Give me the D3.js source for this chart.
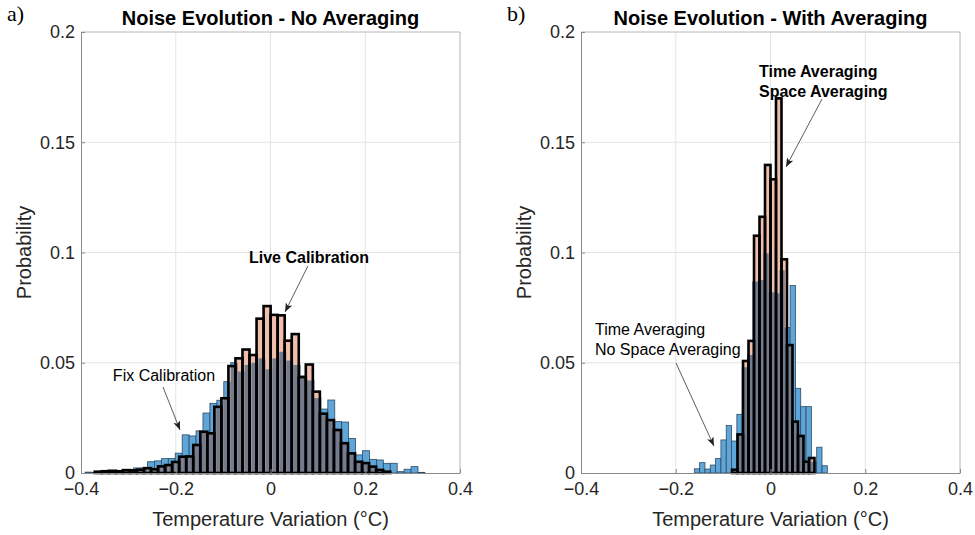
<!doctype html>
<html>
<head>
<meta charset="utf-8">
<style>
  body { margin: 0; background: #fff; }
  svg { font-family: "Liberation Sans", Arial, Helvetica, sans-serif; }
  .grid line { stroke: #e4e4e4; stroke-width: 1; }
  .axis path, .axis line { stroke: #8a8a8a; }
  .axis text { font-size: 18px; fill: #262626; }
  .fix { fill: #5fa5d7; stroke: #2c4b66; stroke-width: 0.8; }
  .live { fill: #efbfab; }
  .overlap { fill: #737b8c; }
  .edge { fill: none; stroke: #000; stroke-width: 2.6; }
  .title { font-size: 20px; font-weight: bold; fill: #000; }
  .label { font-size: 20px; fill: #262626; }
  .note { font-size: 16px; fill: #000; }
  .note.bold { font-weight: bold; }
  .panel-tag { font-family: "Liberation Serif", "Times New Roman", serif; font-size: 22px; fill: #000; }
  .arrow { stroke: #333; stroke-width: 0.8; }
</style>
<script src="https://d3js.org/d3.v7.min.js"></script>
</head>
<body>
<svg width="975" height="535"></svg>
<script>

// axis ticks (same for both panels)
var xTicks = [-0.4, -0.2, 0, 0.2, 0.4];
var yTicks = [0, 0.05, 0.1, 0.15, 0.2];

// a) no averaging : fix calibration (blue), 49 bins
var fixStartA = -0.3914, fixWidthA = 0.01464;
var fixProbA = [0.0004, 0.0002, 0.0003, 0.0006, 0.0008, 0.0005, 0.0008,
  0.0023, 0.0023, 0.0051, 0.0055, 0.0065, 0.0066, 0.009, 0.0173, 0.0168,
  0.0191, 0.0272, 0.0316, 0.033, 0.0414, 0.05, 0.046, 0.049, 0.050, 0.052,
  0.047, 0.052, 0.055, 0.051, 0.049, 0.044, 0.042, 0.034, 0.029, 0.0331,
  0.0233, 0.0231, 0.0157, 0.0082, 0.0101, 0.0062, 0.0059, 0.0044, 0.0044,
  0.0006, 0.0017, 0.0029, 0.0003];

// a) no averaging : live calibration (salmon, black edges), 42 bins
var liveStartA = -0.371, liveWidthA = 0.01485;
var liveProbA = [0.0006, 0.0008, 0.001, 0.0008, 0.0013, 0.0012, 0.0015,
  0.0022, 0.0017, 0.003, 0.0036, 0.005, 0.0074, 0.0075, 0.0127, 0.0187,
  0.018, 0.030, 0.0339, 0.0485, 0.052, 0.056, 0.0535, 0.070, 0.0757, 0.0717,
  0.0715, 0.060, 0.063, 0.0435, 0.0492, 0.0369, 0.0269, 0.024, 0.0195,
  0.0135, 0.0089, 0.0051, 0.0045, 0.0029, 0.0014, 0.0006];

// b) with averaging : time averaging, no space averaging (blue), 25 bins
var timeStartB = -0.1608, timeWidthB = 0.01123;
var timeProbB = [0.0019, 0.0047, 0.0018, 0.0036, 0.0066, 0.015, 0.0215,
  0.0145, 0.0266, 0.048, 0.0535, 0.0868, 0.0875, 0.0996, 0.082, 0.0815,
  0.092, 0.066, 0.085, 0.0384, 0.0301, 0.0301, 0.005, 0.0117, 0.0033];

// b) with averaging : time + space averaging (salmon, black edges), 15 bins
var spaceStartB = -0.0812, spaceWidthB = 0.0116;
var spaceProbB = [0.0015, 0.0175, 0.0508, 0.0599, 0.1076, 0.1162, 0.1397,
  0.1332, 0.1699, 0.0969, 0.058, 0.0233, 0.0168, 0.0051, 0.0068];

var svg = d3.select("svg");

var defs = svg.append("defs");
defs.append("marker")
    .attr("id", "head")
    .attr("markerUnits", "userSpaceOnUse")
    .attr("markerWidth", 10)
    .attr("markerHeight", 8)
    .attr("refX", 9)
    .attr("refY", 3.5)
    .attr("orient", "auto")
  .append("path")
    .attr("d", "M0,0 L9,3.5 L0,7 L2.2,3.5 Z")
    .attr("fill", "#222");

function toBins(start, width, probs) {
    return probs.map(function(p, i) {
        return { x0: start + i * width, x1: start + (i + 1) * width, p: p };
    });
}

function drawPanel(opt) {
    var x = d3.scaleLinear().domain([-0.4, 0.4]).range([opt.left, opt.left + 379]);
    var y = d3.scaleLinear().domain([0, 0.2]).range([473, 32]);
    var g = svg.append("g");

    // grid
    var grid = g.append("g").attr("class", "grid");
    grid.selectAll(".gx").data(xTicks.slice(1, -1)).enter().append("line")
        .attr("x1", d => x(d)).attr("x2", d => x(d))
        .attr("y1", y(0)).attr("y2", y(0.2));
    grid.selectAll(".gy").data(yTicks.slice(1)).enter().append("line")
        .attr("x1", x(-0.4)).attr("x2", x(0.4))
        .attr("y1", d => y(d)).attr("y2", d => y(d));

    var fix = toBins(opt.blueStart, opt.blueWidth, opt.blue);
    var live = toBins(opt.redStart, opt.redWidth, opt.red);

    function place(sel) {
        sel.attr("x", d => x(d.x0))
           .attr("width", d => x(d.x1) - x(d.x0))
           .attr("y", d => y(d.p))
           .attr("height", d => y(0) - y(d.p));
    }

    // clip region = blue bars, used to darken the overlap
    var clip = defs.append("clipPath").attr("id", opt.id + "-clip");
    clip.selectAll("rect").data(fix).enter().append("rect").call(place);

    g.append("g").selectAll("rect").data(fix).enter().append("rect")
        .attr("class", "fix").call(place);
    g.append("g").selectAll("rect").data(live).enter().append("rect")
        .attr("class", "live").call(place);
    g.append("g").attr("clip-path", "url(#" + opt.id + "-clip)")
      .selectAll("rect").data(live).enter().append("rect")
        .attr("class", "overlap").call(place);
    g.append("g").selectAll("rect").data(live).enter().append("rect")
        .attr("class", "edge").call(place);

    // box
    g.append("line").attr("x1", x(-0.4)).attr("x2", x(0.4)).attr("y1", y(0.2)).attr("y2", y(0.2))
        .attr("stroke", "#c4c4c4");
    g.append("line").attr("x1", x(0.4)).attr("x2", x(0.4)).attr("y1", y(0)).attr("y2", y(0.2))
        .attr("stroke", "#b4b4b4");

    g.append("g").attr("class", "axis")
        .attr("transform", "translate(0," + y(0) + ")")
        .call(d3.axisBottom(x).tickValues(xTicks).tickSizeInner(-4).tickSizeOuter(0)
            .tickPadding(9).tickFormat(d3.format("")));
    g.append("g").attr("class", "axis")
        .attr("transform", "translate(" + x(-0.4) + ",0)")
        .call(d3.axisLeft(y).tickValues(yTicks).tickSizeInner(-4).tickSizeOuter(0)
            .tickPadding(6).tickFormat(d3.format("")));

    // titles and labels
    g.append("text").attr("class", "title")
        .attr("x", x(0)).attr("y", 25).attr("text-anchor", "middle").text(opt.title);
    g.append("text").attr("class", "panel-tag")
        .attr("x", opt.left - 74).attr("y", 21).text(opt.tag);
    g.append("text").attr("class", "label")
        .attr("x", x(0)).attr("y", 526).attr("text-anchor", "middle")
        .text("Temperature Variation (°C)");
    g.append("text").attr("class", "label")
        .attr("transform", "translate(" + (opt.left - 50) + "," + y(0.1) + ") rotate(-90)")
        .attr("text-anchor", "middle").text("Probability");

    // annotations
    opt.notes.forEach(function(n) {
        var t = g.append("text").attr("class", "note" + (n.bold ? " bold" : ""))
            .attr("text-anchor", n.anchor)
            .attr("x", x(n.x)).attr("y", y(n.y));
        n.lines.forEach(function(s, i) {
            t.append("tspan").attr("x", x(n.x)).attr("dy", i ? 20.5 : 0).text(s);
        });
        g.append("line").attr("class", "arrow")
            .attr("x1", x(n.from[0])).attr("y1", y(n.from[1]))
            .attr("x2", x(n.to[0])).attr("y2", y(n.to[1]))
            .attr("marker-end", "url(#head)");
    });
}

drawPanel({
    id: "a", left: 81, tag: "a)", title: "Noise Evolution - No Averaging",
    blueStart: fixStartA, blueWidth: fixWidthA, blue: fixProbA,
    redStart: liveStartA, redWidth: liveWidthA, red: liveProbA,
    notes: [
        { lines: ["Live Calibration"], bold: true, anchor: "middle", x: 0.0813, y: 0.0952,
          from: [0.079, 0.0939], to: [0.0306, 0.073] },
        { lines: ["Fix Calibration"], bold: false, anchor: "middle", x: -0.2248, y: 0.0417,
          from: [-0.2269, 0.039], to: [-0.191, 0.0195] }
    ]
});

drawPanel({
    id: "b", left: 581, tag: "b)", title: "Noise Evolution - With Averaging",
    blueStart: timeStartB, blueWidth: timeWidthB, blue: timeProbB,
    redStart: spaceStartB, redWidth: spaceWidthB, red: spaceProbB,
    notes: [
        { lines: ["Time Averaging", "Space Averaging"], bold: true, anchor: "start", x: -0.0243, y: 0.1796,
          from: [0.1087, 0.1696], to: [0.0327, 0.1388] },
        { lines: ["Time Averaging", "No Space Averaging"], bold: false, anchor: "start", x: -0.3705, y: 0.0628,
          from: [-0.1995, 0.0499], to: [-0.1193, 0.0122] }
    ]
});

</script>
</body>
</html>
